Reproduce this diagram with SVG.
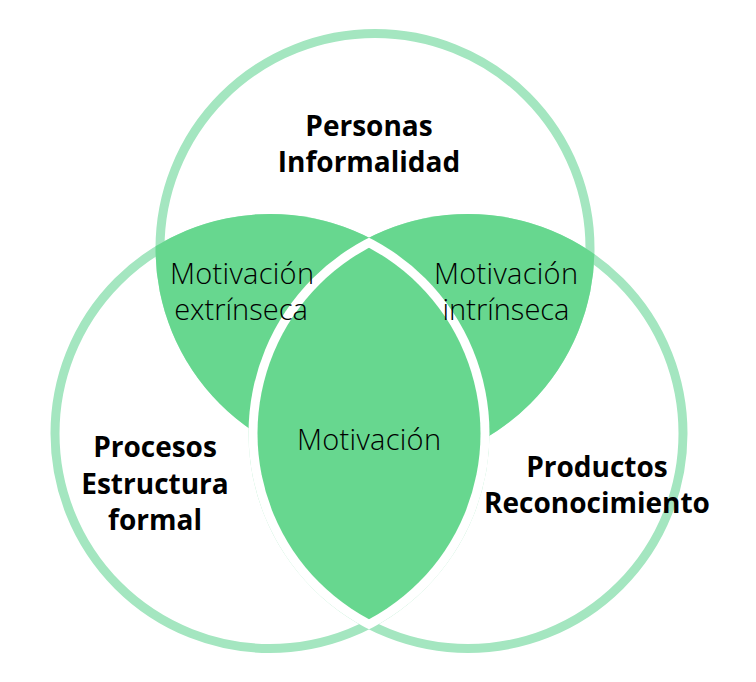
<svg xmlns="http://www.w3.org/2000/svg" width="756" height="682" viewBox="0 0 756 682">
  <style>
    .ring { fill: none; stroke: #A4E6C0; stroke-width: 9; }
    .zone { fill: #67D78F; }
    .gap { fill: #FFFFFF; }
    .bold { font-family: "Open Sans", "Noto Sans", "DejaVu Sans", sans-serif; font-weight: 700; font-size: 28px; fill: #000; text-anchor: middle; }
    .light { font-family: "Open Sans", "Noto Sans", "DejaVu Sans", sans-serif; font-weight: 300; font-size: 29px; fill: #000; text-anchor: middle; }
  </style>
  <defs>
    <clipPath id="clipT"><circle cx="375" cy="248.5" r="219.5"/></clipPath>
    <clipPath id="clipL"><circle cx="270" cy="433.5" r="219.5"/></clipPath>
    <clipPath id="clipLi"><circle cx="270" cy="433.5" r="210.5"/></clipPath>
  </defs>
  <rect width="756" height="682" fill="#FFFFFF"/>

  <g id="rings">
    <circle class="ring" cx="375" cy="248.5" r="215"/>
    <circle class="ring" cx="270" cy="433.5" r="215"/>
    <circle class="ring" cx="468" cy="433.5" r="215"/>
  </g>

  <g id="extrinseca">
    <circle class="zone" cx="270" cy="433.5" r="219.5" clip-path="url(#clipT)"/>
  </g>
  <g id="intrinseca">
    <circle class="zone" cx="468" cy="433.5" r="219.5" clip-path="url(#clipT)"/>
  </g>
  <g id="motivacion">
    <circle class="gap" cx="468" cy="433.5" r="219.5" clip-path="url(#clipL)"/>
    <circle class="zone" cx="468" cy="433.5" r="210.5" clip-path="url(#clipLi)"/>
  </g>

  <g id="personas">
    <text class="bold" x="369" y="136">Personas</text>
    <text class="bold" x="369" y="172">Informalidad</text>
  </g>
  <g id="procesos">
    <text class="bold" x="155" y="457">Procesos</text>
    <text class="bold" x="155" y="494">Estructura</text>
    <text class="bold" x="155" y="530">formal</text>
  </g>
  <g id="productos">
    <text class="bold" x="597" y="477">Productos</text>
    <text class="bold" x="597" y="513">Reconocimiento</text>
  </g>
  <g id="extrinseca-label">
    <text class="light" x="242" y="284" textLength="144" lengthAdjust="spacing">Motivación</text>
    <text class="light" x="241" y="320">extrínseca</text>
  </g>
  <g id="intrinseca-label">
    <text class="light" x="506" y="284" textLength="144" lengthAdjust="spacing">Motivación</text>
    <text class="light" x="506" y="320">intrínseca</text>
  </g>
  <g id="motivacion-label">
    <text class="light" x="369" y="450" textLength="144" lengthAdjust="spacing">Motivación</text>
  </g>
</svg>
